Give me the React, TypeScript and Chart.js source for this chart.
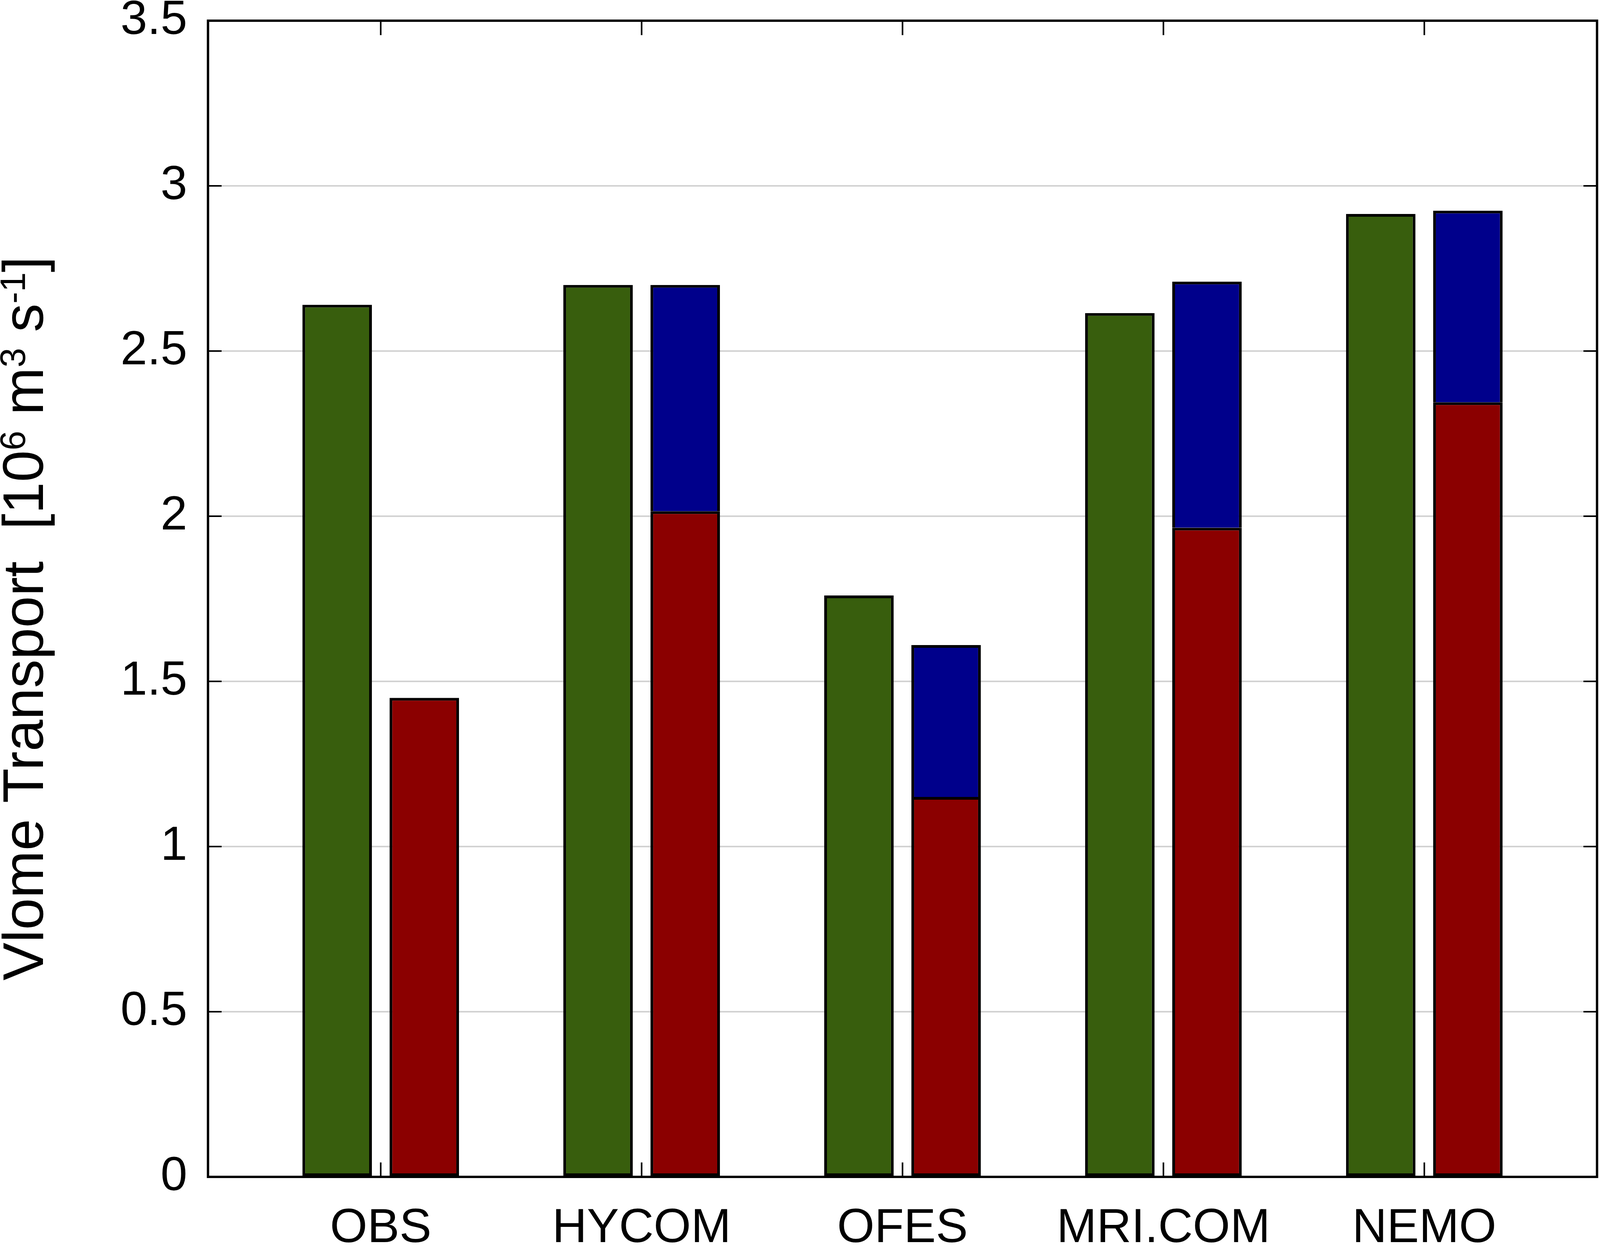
import { useEffect, useRef } from 'react'
import { Chart, registerables } from 'chart.js'

Chart.register(...registerables)

const models = ['OBS', 'HYCOM', 'OFES', 'MRI.COM', 'NEMO']
const totalTransport = [2.64, 2.70, 1.76, 2.615, 2.915]
const lowerLayer = [1.45, 2.015, 1.15, 1.965, 2.345]
const upperLayer = [null, 0.685, 0.46, 0.745, 0.58]
const yTicks = [0, 0.5, 1, 1.5, 2, 2.5, 3, 3.5]

const HEIGHT = 3191
const FONT = "'Liberation Sans', Arial, sans-serif"

// y title pieces, sup = superscript
const titleParts = [
  { text: 'Vlome Transport  [10', sup: false },
  { text: '6', sup: true },
  { text: ' m', sup: false },
  { text: '3', sup: true },
  { text: ' s', sup: false },
  { text: '-1', sup: true },
  { text: ']', sup: false },
]

const framePlugin = {
  id: 'frame',
  afterDatasetsDraw(chart: any) {
    const { ctx, chartArea: a, scales } = chart
    const tickX = 0.0085 * chart.width
    const tickY = 37
    ctx.save()
    ctx.strokeStyle = '#000'
    ctx.lineWidth = 4
    ctx.beginPath()
    yTicks.forEach(v => {
      const y = scales.y.getPixelForValue(v)
      ctx.moveTo(a.left, y)
      ctx.lineTo(a.left + tickX, y)
      ctx.moveTo(a.right, y)
      ctx.lineTo(a.right - tickX, y)
    })
    models.forEach((_, i) => {
      const x = scales.x.getPixelForValue(i + 1)
      ctx.moveTo(x, a.top)
      ctx.lineTo(x, a.top + tickY)
      ctx.moveTo(x, a.bottom)
      ctx.lineTo(x, a.bottom - tickY)
    })
    ctx.stroke()
    ctx.lineWidth = 6
    ctx.strokeRect(a.left, a.top, a.right - a.left, a.bottom - a.top)
    ctx.restore()
  },
}

const yTitlePlugin = {
  id: 'yTitle',
  afterDraw(chart: any) {
    const { ctx } = chart
    const big = `146px ${FONT}`
    const small = `90px ${FONT}`
    ctx.save()
    ctx.fillStyle = '#000'
    ctx.textBaseline = 'alphabetic'
    ctx.textAlign = 'left'
    let total = 0
    const widths = titleParts.map(p => {
      ctx.font = p.sup ? small : big
      const w = ctx.measureText(p.text).width
      total += w
      return w
    })
    ctx.translate(0.0268 * chart.width, 1584)
    ctx.rotate(-Math.PI / 2)
    let x = -total / 2
    titleParts.forEach((p, i) => {
      ctx.font = p.sup ? small : big
      ctx.fillText(p.text, x, p.sup ? -46 : 0)
      x += widths[i]
    })
    ctx.restore()
  },
}

export default function App() {
  const canvasRef = useRef<HTMLCanvasElement>(null)

  useEffect(() => {
    document.body.style.margin = '0'
    if (!canvasRef.current) return

    const toPoints = (vals: (number | null)[]) => vals.map((v, i) => ({ x: i + 1, y: v }))
    const barStyle = {
      borderColor: '#000',
      borderWidth: 7,
      borderSkipped: false as any,
      categoryPercentage: 0.668,
      barPercentage: 0.797,
    }

    const chart = new Chart(canvasRef.current, {
      type: 'bar',
      data: {
        datasets: [
          { label: 'Total', data: toPoints(totalTransport), backgroundColor: '#385e0d', stack: 'total', ...barStyle },
          { label: 'Lower', data: toPoints(lowerLayer), backgroundColor: '#8b0000', stack: 'split', ...barStyle },
          // no bottom edge: the red bar's top already draws the dividing line
          { label: 'Upper', data: toPoints(upperLayer), backgroundColor: '#00008b', stack: 'split', ...barStyle, borderSkipped: 'start' },
        ] as any,
      },
      options: {
        responsive: true,
        maintainAspectRatio: false,
        animation: false,
        devicePixelRatio: 1,
        locale: 'en-US',
        layout: {
          padding: (c: any) => ({ top: 53, right: c.chart.width * 0.00185, left: 0, bottom: 0 }),
        },
        plugins: {
          legend: { display: false },
          tooltip: { enabled: false },
          title: { display: false },
        },
        scales: {
          x: {
            type: 'linear',
            min: 0.338,
            max: 5.662,
            offset: false,
            grid: { display: false },
            border: { display: false },
            afterBuildTicks: (s: any) => {
              s.ticks = models.map((_, i) => ({ value: i + 1 }))
            },
            afterFit: (s: any) => {
              s.height = HEIGHT - 3014
              s.paddingLeft = 0
              s.paddingRight = 0
            },
            ticks: {
              padding: 51,
              color: '#000',
              font: { family: FONT, size: 123 },
              maxRotation: 0,
              autoSkip: false,
              callback: (v: any) => models[Math.round(Number(v)) - 1] ?? '',
            },
          },
          y: {
            type: 'linear',
            min: 0,
            max: 3.5,
            stacked: true,
            grid: { color: '#d2d2d2', lineWidth: 4, drawTicks: false },
            border: { display: false },
            afterBuildTicks: (s: any) => {
              s.ticks = yTicks.map(v => ({ value: v }))
            },
            afterFit: (s: any) => {
              s.width = s.chart.width * 0.13
              s.paddingTop = 0
              s.paddingBottom = 0
            },
            ticks: {
              padding: 53,
              color: '#000',
              font: { family: FONT, size: 123 },
              callback: (v: any) => String(v),
            },
          },
        },
      },
      plugins: [framePlugin, yTitlePlugin],
    })

    return () => chart.destroy()
  }, [])

  return (
    <div style={{ position: 'relative', width: '100%', height: HEIGHT, background: '#fff' }}>
      <canvas ref={canvasRef} />
    </div>
  )
}
